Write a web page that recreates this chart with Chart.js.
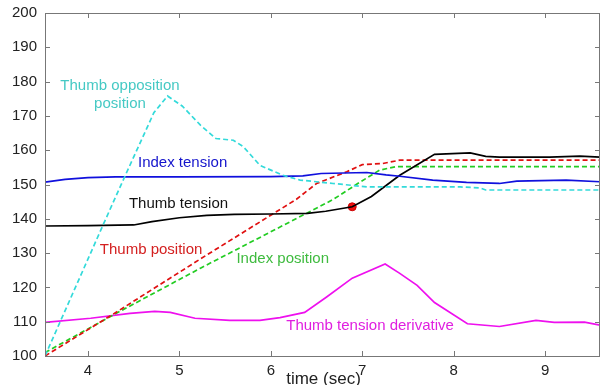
<!DOCTYPE html>
<html>
<head>
<meta charset="utf-8">
<script src="https://cdn.jsdelivr.net/npm/chart.js@4/dist/chart.umd.min.js"></script>
<style>
  html, body { margin: 0; padding: 0; background: #fff; }
  #wrap { width: 600px; height: 385px; position: relative; }
</style>
</head>
<body>
<div id="wrap"><canvas id="myChart"></canvas></div>
<script>
"use strict";

// axis ticks
const xTicks = [4, 5, 6, 7, 8, 9];
const yTicks = [100, 110, 120, 130, 140, 150, 160, 170, 180, 190, 200];

// thumb opposition position (cyan dashed)
const oppX = [3.53, 4.17, 4.37, 4.72, 4.87, 5.03, 5.23, 5.4, 5.59, 5.7, 5.88, 6.13, 6.32, 6.68, 7.05, 7.41, 8.07, 8.29, 8.35, 9.6];
const oppY = [100, 138.5, 150.4, 170.9, 175.8, 172.9, 167.3, 163.4, 162.9, 161.0, 155.6, 152.7, 151.3, 150.3, 149.3, 149.3, 149.3, 149.0, 148.4, 148.4];

// index tension (blue)
const idxTenX = [3.53, 3.75, 4.0, 4.3, 5.0, 6.0, 6.35, 6.55, 7.05, 7.26, 7.41, 7.77, 8.14, 8.5, 8.69, 9.23, 9.6];
const idxTenY = [150.7, 151.5, 152.0, 152.2, 152.2, 152.3, 152.5, 153.2, 153.5, 152.8, 152.4, 151.3, 150.6, 150.3, 151.0, 151.3, 150.8];

// thumb tension (black)
const thTenX = [3.53, 4.0, 4.5, 4.7, 5.0, 5.3, 5.6, 6.0, 6.4, 6.6, 6.89, 7.1, 7.41, 7.79, 8.18, 8.35, 8.5, 9.05, 9.38, 9.6];
const thTenY = [137.9, 138.0, 138.2, 139.2, 140.3, 141.0, 141.3, 141.4, 141.6, 142.2, 143.5, 146.5, 152.7, 158.8, 159.2, 158.2, 158.0, 158.0, 158.3, 158.0];

// thumb position (red dashed)
const thPosX = [3.53, 4.3, 5.23, 6.28, 6.5, 6.83, 7.0, 7.22, 7.41, 9.6];
const thPosY = [100, 112.6, 128.3, 145.7, 150.3, 153.7, 155.8, 156.1, 157.1, 157.1];

// index position (green dashed)
const idxPosX = [3.53, 4.3, 5.23, 6.68, 6.97, 7.19, 7.37, 9.6];
const idxPosY = [101, 112.3, 125.6, 145.6, 150.6, 154.2, 155.2, 155.2];

// thumb tension derivative (magenta)
const derivX = [3.53, 4.03, 4.46, 4.73, 4.9, 5.17, 5.55, 5.88, 6.1, 6.37, 6.61, 6.89, 7.25, 7.41, 7.6, 7.79, 8.15, 8.5, 8.9, 9.1, 9.43, 9.6];
const derivY = [109.8, 111, 112.4, 113, 112.7, 111, 110.4, 110.4, 111.2, 112.7, 117.2, 122.7, 126.8, 124.1, 120.6, 115.6, 109.4, 108.6, 110.4, 109.8, 109.9, 109];

// marked point on thumb tension
const markX = [6.89];
const markY = [143.5];

// text labels next to the curves
const labelText = ['Thumb opposition', 'position', 'Index tension', 'Thumb tension', 'Thumb position', 'Index position', 'Thumb tension derivative'];
const labelX = [4.35, 4.35, 5.035, 4.99, 4.69, 6.13, 7.085];
const labelY = [178.7, 173.4, 156.2, 144.5, 130.8, 128.4, 108.75];
const labelColor = ['#45c9c4', '#45c9c4', '#1414cc', '#111', '#d42020', '#3fbb3f', '#e020e0'];

const FONT = '"Liberation Sans", Arial, sans-serif';

function pts(xs, ys) {
  return xs.map((x, i) => ({ x: x, y: ys[i] }));
}

function series(xs, ys, color, dashed) {
  return {
    data: pts(xs, ys),
    borderColor: color,
    borderWidth: 1.7,
    borderDash: dashed ? [5, 3] : [],
    pointRadius: 0,
    tension: 0,
    fill: false
  };
}

// box round the plot, inward ticks, tick labels, axis title and curve labels
const boxPlugin = {
  id: 'boxPlugin',
  afterDatasetsDraw(chart) {
    const c = chart.ctx;
    const a = chart.chartArea;
    const xs = chart.scales.x;
    const ys = chart.scales.y;
    c.save();
    c.strokeStyle = '#777';
    c.lineWidth = 1;
    c.strokeRect(a.left + 0.5, a.top + 0.5, a.right - a.left - 1, a.bottom - a.top);
    c.beginPath();
    xTicks.forEach(v => {
      const px = Math.round(xs.getPixelForValue(v)) + 0.5;
      c.moveTo(px, a.bottom); c.lineTo(px, a.bottom - 5);
      c.moveTo(px, a.top); c.lineTo(px, a.top + 5);
    });
    yTicks.forEach(v => {
      const py = Math.round(ys.getPixelForValue(v)) + 0.5;
      c.moveTo(a.left, py); c.lineTo(a.left + 5, py);
      c.moveTo(a.right, py); c.lineTo(a.right - 5, py);
    });
    c.stroke();

    c.fillStyle = '#222';
    c.font = '15px ' + FONT;
    c.textAlign = 'right';
    c.textBaseline = 'middle';
    yTicks.forEach(v => c.fillText(String(v), a.left - 8, ys.getPixelForValue(v)));
    c.textAlign = 'center';
    c.textBaseline = 'top';
    xTicks.forEach(v => c.fillText(String(v), xs.getPixelForValue(v), a.bottom + 7));

    c.font = '17px ' + FONT;
    c.textBaseline = 'bottom';
    c.fillText('time (sec)', (a.left + a.right) / 2 + 1, chart.height + 3);

    c.font = '15px ' + FONT;
    c.textBaseline = 'middle';
    labelText.forEach((t, i) => {
      c.fillStyle = labelColor[i];
      c.fillText(t, xs.getPixelForValue(labelX[i]), ys.getPixelForValue(labelY[i]));
    });
    c.restore();
  }
};

const ctx = document.getElementById('myChart').getContext('2d');

const chart = new Chart(ctx, {
  type: 'line',
  data: {
    datasets: [
      series(oppX, oppY, '#33dada', true),
      series(idxTenX, idxTenY, '#1010dd', false),
      series(thTenX, thTenY, '#000', false),
      series(thPosX, thPosY, '#e01010', true),
      series(idxPosX, idxPosY, '#22cc22', true),
      series(derivX, derivY, '#ee10ee', false),
      {
        data: pts(markX, markY),
        showLine: false,
        pointRadius: 4,
        pointBackgroundColor: '#f01010',
        pointBorderColor: '#c00',
        pointBorderWidth: 1
      }
    ]
  },
  options: {
    responsive: true,
    maintainAspectRatio: false,
    animation: false,
    layout: { autoPadding: false, padding: { top: 13, right: 0, left: 45, bottom: 29 } },
    plugins: {
      legend: { display: false },
      tooltip: { enabled: false }
    },
    scales: {
      x: { type: 'linear', min: 3.53, max: 9.6, display: false },
      y: { min: 100, max: 200, display: false }
    }
  },
  plugins: [boxPlugin]
});
</script>
</body>
</html>
